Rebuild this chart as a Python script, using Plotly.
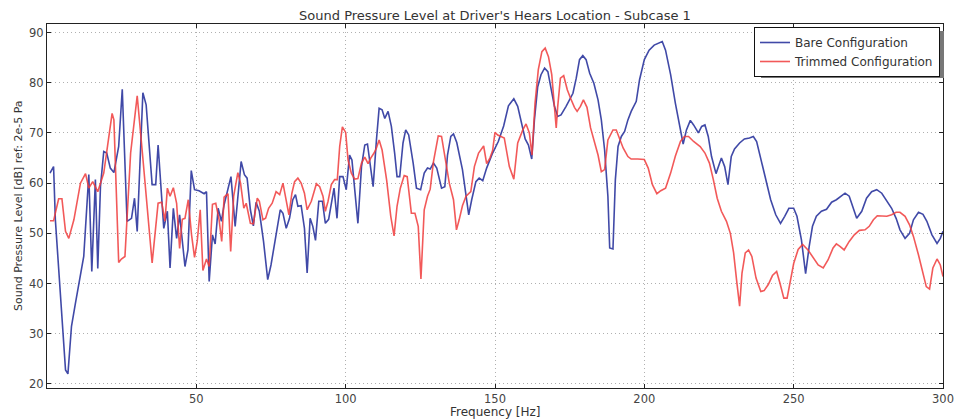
import plotly.graph_objects as go

# ---- data ----
bare_freq = [1, 2.2, 2.8, 6.2, 7.0, 8.2, 9.5, 12.3, 14.0, 15.0, 16.2, 17.0, 17.9, 19.0, 20.0, 21.2, 22.4, 24.0,
             25.2, 26.8, 28.3, 29.3, 30.2, 32.1, 33.2, 35.2, 36.4, 37.2, 39.1, 40.3, 41.2, 42.3, 43.4, 44.4, 46.2,
             47.2, 48.3, 49.4, 50.9, 52.6, 53.4, 54.3, 55.4, 56.3, 57.3, 58.4, 59.3, 61.6, 63.0, 63.9, 65.0, 66.1,
             67.0, 68.1, 69.1, 70.0, 71.1, 72.5, 73.9, 75.0, 76.5, 78.1, 79.0, 80.1, 81.2, 82.3, 83.2, 84.0, 85.1,
             86.2, 87.1, 88.1, 89.0, 89.9, 91.0, 92.2, 93.2, 94.3, 96.1, 97.1, 98.0, 99.1, 100.2, 101.3, 102.1,
             103.2, 104.1, 105.3, 106.4, 107.3, 108.4, 109.2, 110.3, 111.2, 112.2, 113.1, 114.2, 115.3, 116.4,
             117.2, 118.1, 119.2, 120.1, 121.1, 122.6, 123.7, 125.1, 126.3, 127.4, 128.3, 129.4, 130.5, 132.1,
             133.2, 134.1, 135.2, 136.1, 137.2, 139.1, 140.3, 141.2, 142.2, 143.6, 144.7, 145.9, 147.2, 149.2,
             151.1, 152.9, 154.5, 156.3, 157.6, 159.3, 160.1, 161.2, 162.3, 163.2, 164.3, 165.4, 166.6, 167.7,
             168.8, 169.9, 171.0, 172.1, 173.8, 176.1, 177.2, 178.3, 179.4, 180.5, 181.7, 183.1, 184.5, 185.6,
             186.7, 187.8, 188.4, 189.5, 190.3, 191.2, 192.3, 193.4, 194.5, 195.6, 197.3, 198.4, 200.0, 201.6,
             203.3, 204.9, 206.0, 207.1, 208.8, 210.4, 212.1, 213.0, 214.1, 215.4, 216.5, 218.1, 219.2, 220.3,
             221.4, 222.5, 224.0, 225.8, 226.9, 228.0, 229.1, 230.2, 231.9, 233.5, 235.2, 236.5, 237.6, 239.0,
             240.7, 242.3, 244.0, 245.6, 247.0, 248.4, 250.0, 251.1, 252.6, 254.0, 255.2, 256.3, 257.6, 259.3,
             261.0, 262.7, 264.3, 266.0, 267.2, 268.6, 270.0, 271.1, 272.8, 274.4, 276.1, 277.8, 279.5, 281.2,
             282.8, 284.3, 285.6, 287.3, 288.8, 290.1, 291.8, 293.3, 294.6, 296.3, 298.0, 299.1, 300.0]
bare_spl = [62.0, 63.3, 52.7, 22.8, 22.0, 31.5, 36.0, 45.4, 61.7, 42.4, 60.7, 43.0, 59.3, 66.3, 66.0, 63.0, 62.1, 67.3,
            78.7, 52.4, 53.0, 57.0, 50.4, 78.0, 75.6, 59.7, 59.7, 67.6, 51.0, 54.4, 43.1, 55.0, 49.0, 53.7, 43.4,
            46.7, 62.5, 58.7, 58.5, 57.9, 58.3, 40.4, 49.7, 47.9, 55.0, 52.4, 55.7, 61.3, 51.4, 56.7, 64.3, 61.7,
            61.0, 54.7, 51.5, 56.2, 54.4, 48.4, 40.8, 43.7, 49.4, 54.7, 54.0, 51.0, 53.0, 56.7, 57.7, 55.4, 55.5,
            51.0, 42.1, 53.0, 51.4, 48.6, 56.4, 56.4, 52.0, 52.8, 59.0, 53.0, 61.3, 61.3, 58.7, 65.6, 64.6,
            57.0, 52.0, 63.3, 67.6, 67.8, 62.3, 59.3, 68.6, 74.9, 74.6, 72.9, 74.3, 71.3, 66.0,
            61.3, 61.3, 68.0, 70.6, 69.6, 64.0, 59.0, 58.7, 62.0, 63.0, 62.8, 64.0, 63.0, 59.0,
            59.3, 65.6, 69.3, 69.8, 68.1, 62.7, 57.4, 53.7, 56.7, 60.3, 61.0, 60.5, 63.0, 66.0,
            68.3, 71.4, 75.4, 76.8, 75.3, 71.2, 68.8, 67.6, 64.8, 72.6, 79.2, 81.6, 82.9, 82.2,
            78.6, 75.3, 73.3, 73.6, 75.3, 77.9, 80.9, 84.6, 85.4, 84.6, 81.9, 79.9, 76.6, 72.6,
            66.6, 57.4, 47.1, 46.9, 60.7, 67.3, 69.3, 70.3, 72.6, 74.3, 76.3, 80.6, 84.6, 86.5,
            87.5, 88.0, 88.2, 86.5, 81.6, 75.9, 70.6, 67.8, 70.6, 72.5, 71.6, 70.0, 71.3, 71.6,
            69.3, 65.3, 61.9, 65.0, 63.3, 59.7, 65.3, 66.8, 68.0, 68.8, 69.0, 69.3, 68.3, 64.7,
            60.7, 56.7, 53.7, 52.0, 53.4, 55.0, 55.0, 53.4, 48.7, 42.0, 47.4, 51.4, 53.4, 54.4,
            54.8, 56.2, 56.7, 57.5, 58.0, 57.4, 54.7, 53.0, 54.4, 57.0, 58.3, 58.7, 58.0, 56.4,
            55.0, 53.0, 50.7, 49.0, 50.0, 52.7, 54.2, 53.8, 52.4, 49.7, 48.0, 49.0, 50.4]

trim_freq = [1, 2.2, 3.9, 5.0, 6.2, 7.3, 9.0, 11.2, 12.9, 14.0, 15.3, 17.0, 19.0, 20.1, 21.8, 22.4, 24.0, 24.9,
             26.1, 28.0, 30.2, 31.9, 33.6, 35.2, 37.2, 38.4, 39.5, 40.3, 41.2, 42.3, 43.4, 44.4, 45.3, 46.2, 47.3,
             48.4, 49.4, 50.3, 51.3, 52.2, 53.4, 54.3, 55.4, 56.5, 57.6, 58.5, 59.3, 60.6, 61.5, 62.5, 63.9, 64.8,
             65.9, 66.7, 68.1, 69.1, 70.4, 71.1, 72.3, 73.2, 74.2, 75.4, 76.7, 77.9, 79.0, 79.9, 81.0, 82.0, 82.9,
             84.0, 85.1, 86.2, 87.1, 88.5, 90.2, 91.3, 92.4, 93.2, 94.1, 95.2, 96.3, 97.2, 98.0, 98.9, 100.0,
             100.8, 101.9, 103.0, 104.1, 105.3, 106.4, 107.5, 108.4, 109.5, 110.3, 111.2, 112.2, 113.7, 115.1,
             116.2, 117.2, 118.3, 119.6, 120.6, 122.0, 123.2, 124.3, 125.2, 126.3, 127.4, 128.3, 129.4, 131.0,
             132.1, 133.6, 134.7, 136.1, 137.1, 138.0, 139.1, 140.3, 141.9, 143.1, 144.5, 146.2, 147.2, 148.3,
             149.2, 150.0, 150.9, 152.0, 153.1, 154.8, 156.3, 157.6, 159.3, 160.4, 161.5, 162.4, 163.4, 164.5,
             165.7, 166.8, 167.9, 169.0, 169.7, 170.5, 171.0, 171.9, 173.0, 174.2, 175.3, 176.6, 177.5, 178.6,
             179.6, 180.8, 182.0, 183.3, 184.5, 185.6, 186.7, 187.8, 189.5, 190.6, 191.2, 192.9, 194.5, 195.6,
             197.8, 200.0, 201.3, 202.7, 204.2, 205.5, 207.1, 208.8, 210.4, 212.1, 213.4, 214.8, 216.5, 218.7,
             220.3, 221.8, 223.1, 224.4, 225.8, 227.5, 228.8, 229.9, 231.0, 231.9, 232.7, 233.8, 234.9, 236.0,
             237.4, 239.0, 240.1, 241.5, 242.9, 244.3, 245.4, 246.7, 247.8, 248.9, 250.0, 251.5, 253.0, 254.8,
             256.5, 258.2, 259.9, 261.5, 263.2, 264.3, 265.5, 266.9, 268.6, 270.3, 272.0, 273.9, 275.3, 276.7,
             278.0, 279.5, 281.2, 282.8, 284.3, 285.6, 287.3, 288.8, 290.1, 291.8, 293.3, 294.4, 295.5, 296.6,
             298.0, 299.1, 300.0]
trim_spl = [52.5, 52.5, 56.9, 56.9, 50.4, 49.0, 52.7, 60.0, 61.9, 59.0, 60.3, 58.3, 62.0, 66.6, 73.9, 72.6, 44.2, 44.9,
            45.4, 66.0, 77.4, 66.3, 54.7, 44.1, 56.0, 56.2, 52.4, 59.0, 57.4, 59.1, 56.0, 47.0, 52.8, 53.0, 56.7,
            49.7, 45.2, 48.4, 54.7, 42.6, 44.9, 43.4, 55.8, 56.0, 52.8, 48.4, 57.2, 57.9, 46.4, 57.4, 62.1, 60.0,
            55.0, 56.0, 52.0, 51.9, 57.0, 56.4, 52.7, 53.0, 55.0, 56.0, 58.3, 57.7, 60.0, 57.4, 53.7, 58.0, 60.3,
            61.0, 60.0, 58.0, 54.7, 56.4, 59.9, 59.3, 57.4, 54.4, 56.4, 59.7, 60.7, 60.7, 67.3, 71.2, 70.1,
            64.6, 62.0, 60.8, 60.9, 64.0, 65.2, 63.9, 65.0, 66.0, 67.0, 68.6, 66.6, 60.7, 53.4,
            49.5, 55.4, 59.0, 61.5, 61.3, 54.0, 54.0, 51.4, 40.9, 54.7, 57.4, 58.8, 64.3, 69.4,
            69.3, 63.7, 60.0, 56.7, 50.7, 52.7, 55.5, 57.4, 58.3, 63.3, 66.0, 67.4, 63.9, 65.0,
            66.5, 70.1, 69.6, 69.3, 69.0, 63.3, 60.8, 68.0, 70.6, 71.8, 70.0, 65.6, 75.9, 82.6,
            86.2, 86.9, 85.2, 81.6, 77.3, 71.0, 75.3, 80.9, 81.4, 78.6, 76.9, 75.1, 74.3, 75.3,
            76.6, 75.1, 71.0, 68.3, 65.6, 62.3, 62.7, 68.6, 70.6, 70.6, 69.6, 67.0, 65.3, 64.8,
            64.8, 64.7, 63.0, 59.7, 57.9, 58.5, 59.0, 62.0, 65.4, 68.3, 69.3, 69.3, 68.3, 67.3,
            66.0, 64.0, 60.7, 57.0, 54.4, 52.4, 50.0, 46.1, 40.1, 35.5, 42.1, 46.1, 46.7, 45.4,
            41.1, 38.4, 38.6, 39.8, 41.6, 42.4, 40.1, 37.1, 37.1, 40.5, 44.0, 46.8, 47.8, 46.7,
            45.1, 43.7, 43.1, 44.7, 47.1, 47.9, 47.4, 46.7, 48.4, 49.7, 50.6, 50.7, 51.4, 52.7,
            53.5, 53.4, 53.4, 53.7, 54.2, 54.2, 53.4, 51.7, 49.4, 45.7, 42.1, 39.4, 38.9, 43.1,
            44.9, 43.7, 41.4]

x_ticks = [50, 100, 150, 200, 250, 300]
y_ticks = [20, 30, 40, 50, 60, 70, 80, 90]

FONT = "DejaVu Sans"
OFF = 8                      # page body margin
W, H = 967 - OFF, 419 - OFF
L, T = 47 - OFF, 24 - OFF
R = W - (943 - OFF)
B = H - (388 - OFF)
PW, PH = W - L - R, H - T - B


def px_x(p):  # page pixel -> paper x
    return (p - OFF - L) / PW


def px_y(p):  # page pixel -> paper y
    return 1 - (p - OFF - T) / PH


fig = go.Figure()
fig.add_trace(go.Scatter(x=bare_freq, y=bare_spl, mode="lines", name="Bare Configuration",
                         line=dict(color="rgba(48,58,160,0.92)", width=1.6)))
fig.add_trace(go.Scatter(x=trim_freq, y=trim_spl, mode="lines", name="Trimmed Configuration",
                         line=dict(color="rgba(240,60,60,0.85)", width=1.6)))

axis_common = dict(showline=True, linecolor="#222", linewidth=1, mirror="allticks",
                   ticks="inside", ticklen=4, tickcolor="#222",
                   showgrid=True, gridcolor="#b0b0b0", griddash="1px,3px", gridwidth=1,
                   zeroline=False, tickfont=dict(family=FONT, size=11.5, color="#444"),
                   automargin=False)

fig.update_xaxes(range=[0, 300], tickvals=x_ticks, ticklabelstandoff=0, **axis_common)
fig.update_yaxes(range=[19.2, 91.7], tickvals=y_ticks, **axis_common)

# legend drop shadow
lx1, ly0 = 940, 27
lw, lh = 183, 47
fig.add_shape(type="rect", xref="paper", yref="paper",
              x0=px_x(lx1 - lw + 4), x1=px_x(lx1 + 4), y0=px_y(ly0 + lh + 4), y1=px_y(ly0 + 4),
              fillcolor="#777", line=dict(width=0), layer="above")

fig.update_layout(
    width=W, height=H,
    margin=dict(l=L, r=R, t=T, b=B, autoexpand=False),
    paper_bgcolor="white", plot_bgcolor="white",
    title=dict(text="Sound Pressure Level at Driver's Hears Location - Subcase 1",
               x=(L + PW / 2) / W, xanchor="center", y=1 - (15 - OFF) / H, yanchor="middle",
               font=dict(family=FONT, size=13, color="#333")),
    legend=dict(x=px_x(lx1), xanchor="right", y=px_y(ly0), yanchor="top",
                bgcolor="white", bordercolor="#111", borderwidth=1,
                font=dict(family=FONT, size=12, color="#333"),
                itemwidth=30, tracegroupgap=0),
    showlegend=True,
    annotations=[
        dict(text="Frequency [Hz]", xref="paper", yref="paper", x=0.5, y=px_y(411.5),
             xanchor="center", yanchor="middle", showarrow=False,
             font=dict(family=FONT, size=12, color="#333")),
        dict(text="Sound Pressure Level [dB] ref: 2e-5 Pa", xref="paper", yref="paper",
             x=px_x(18), y=0.5, xanchor="center", yanchor="middle", textangle=-90,
             showarrow=False, font=dict(family=FONT, size=11, color="#333")),
    ],
)

fig.write_html("out.html")
